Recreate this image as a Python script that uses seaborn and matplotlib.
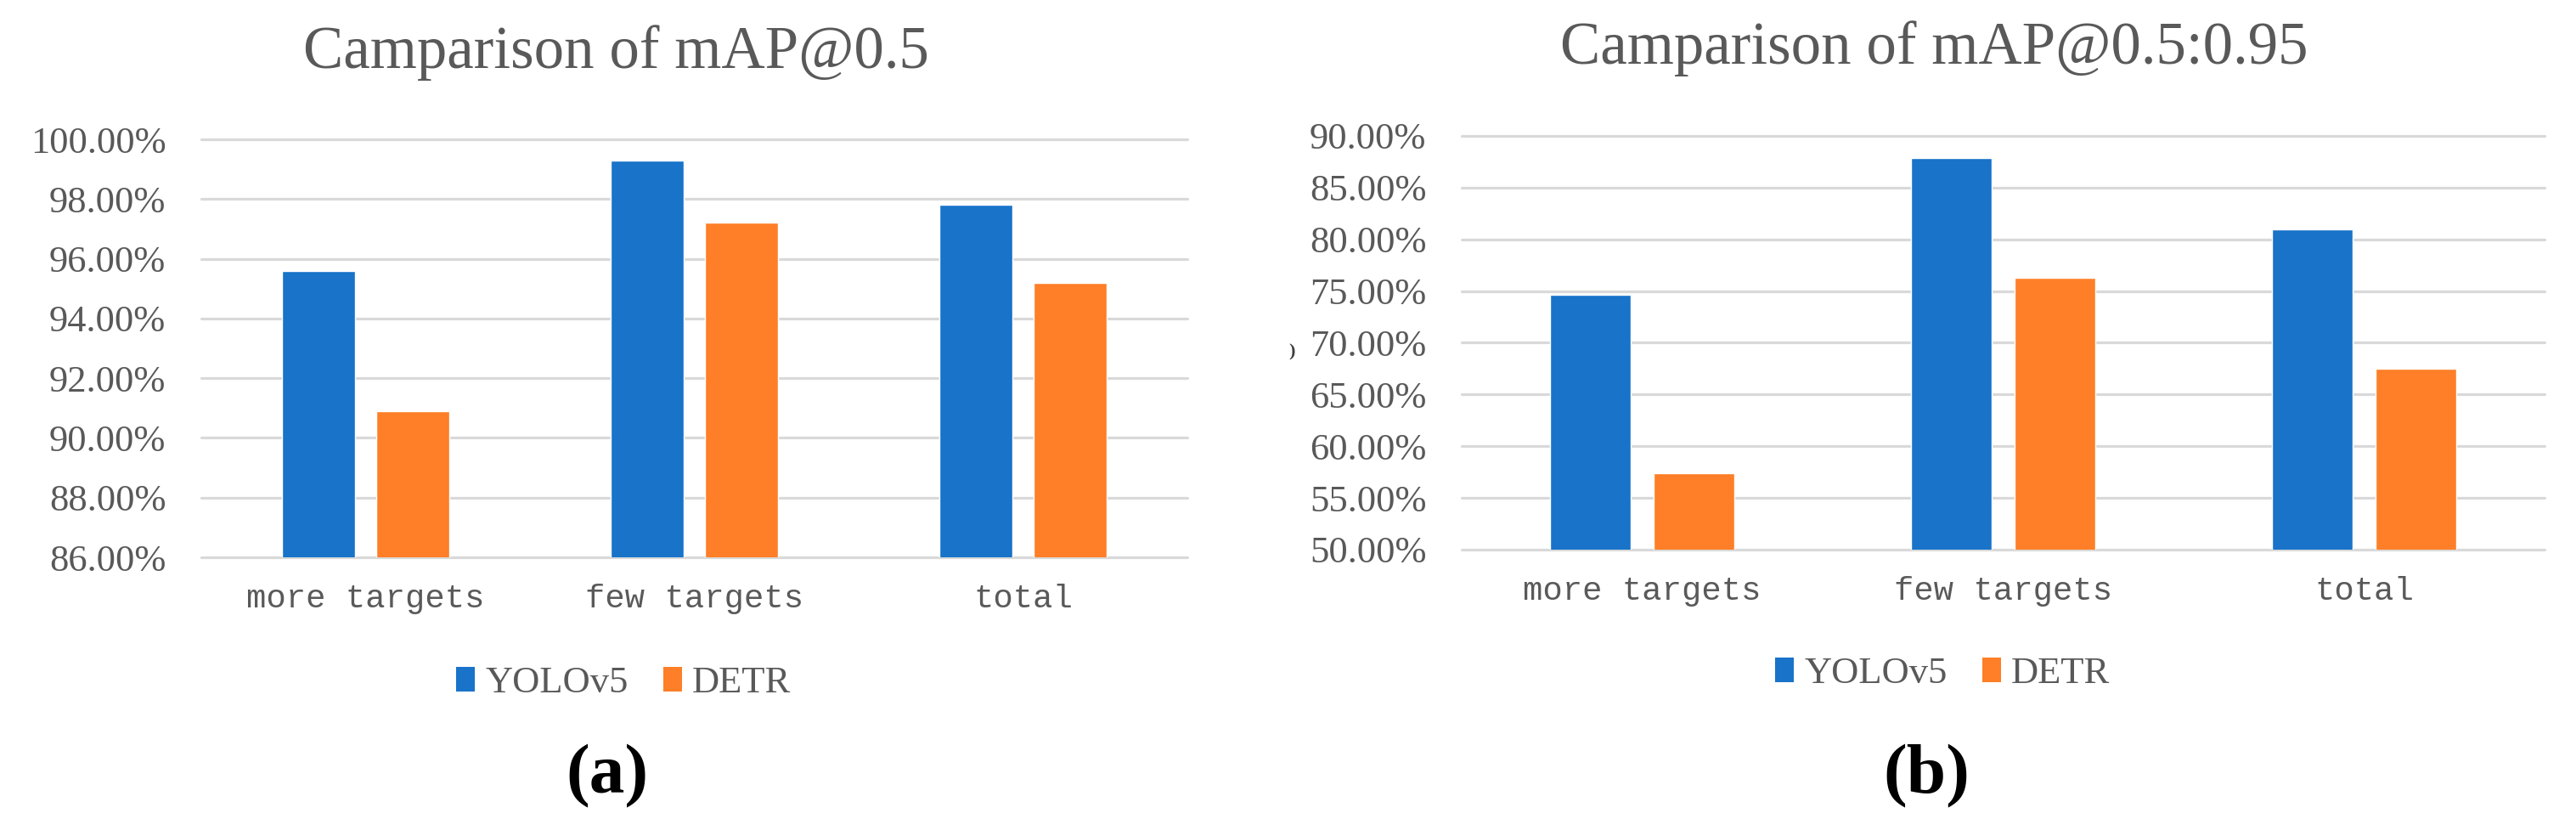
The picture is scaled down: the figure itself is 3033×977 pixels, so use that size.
import matplotlib
matplotlib.use("Agg")
import matplotlib.pyplot as plt
from matplotlib.patches import Patch
import seaborn as sns
import pandas as pd
import numpy as np

categories = ["more targets", "few targets", "total"]
models = ["YOLOv5", "DETR"]
map50_yolo = [95.6, 99.3, 97.8]
map50_detr = [90.9, 97.2, 95.2]
map5095_yolo = [74.6, 87.9, 81.0]
map5095_detr = [57.4, 76.3, 67.5]
ticks_a = [86, 88, 90, 92, 94, 96, 98, 100]
ticks_b = [50, 55, 60, 65, 70, 75, 80, 85, 90]
title_a = "Camparison of mAP@0.5"
title_b = "Camparison of mAP@0.5:0.95"

BLUE = "#1873C9"
ORANGE = "#FE7F27"
GRAY_TXT = "#595959"
GRID = "#D9D9D9"

sns.set_theme(style="white")
plt.rcParams["font.family"] = ["Liberation Serif", "DejaVu Serif"]

W, H = 3033, 977
fig = plt.figure(figsize=(W / 100, H / 100), dpi=100)


def px_axes(x0, x1, y0, y1):
    return fig.add_axes([x0 / W, 1 - y1 / H, (x1 - x0) / W, (y1 - y0) / H])


def make_df(yolo, detr):
    rows = []
    for c, v in zip(categories, yolo):
        rows.append({"category": c, "model": "YOLOv5", "value": v})
    for c, v in zip(categories, detr):
        rows.append({"category": c, "model": "DETR", "value": v})
    return pd.DataFrame(rows)


def draw(ax, df, ticks, gap):
    sns.barplot(data=df, x="category", y="value", hue="model", order=categories,
                hue_order=models, palette=[BLUE, ORANGE], width=0.575, gap=gap,
                legend=False, ax=ax, saturation=1, zorder=3)
    ax.set_ylim(ticks[0], ticks[-1])
    ax.set_yticks(ticks)
    ax.set_yticklabels([f"{t:.2f}%" for t in ticks], fontsize=32, color=GRAY_TXT)
    ax.set_xticks(range(len(categories)))
    ax.set_xticklabels(categories, fontsize=28, color=GRAY_TXT,
                       fontfamily=["Liberation Mono", "DejaVu Sans Mono"])
    ax.tick_params(axis="y", length=0, pad=30)
    ax.tick_params(axis="x", length=0, pad=22)
    ax.set_xlabel("")
    ax.set_ylabel("")
    ax.set_xlim(-0.5, len(categories) - 0.5)
    for s in ax.spines.values():
        s.set_visible(False)
    ax.yaxis.grid(True, color=GRID, linewidth=2.3)
    ax.set_axisbelow(True)
    for ln in ax.get_ygridlines():
        ln.set_clip_on(False)


ax1 = px_axes(237, 1398, 164, 656)
draw(ax1, make_df(map50_yolo, map50_detr), ticks_a, 0.227)

ax2 = px_axes(1721, 2996, 160, 647)
draw(ax2, make_df(map5095_yolo, map5095_detr), ticks_b, 0.22)

fig.text(725 / W, 1 - 80 / H, title_a, ha="center", va="baseline", fontsize=51, color=GRAY_TXT)
fig.text(2277 / W, 1 - 75 / H, title_b, ha="center", va="baseline", fontsize=51, color=GRAY_TXT)

handles = [Patch(facecolor=BLUE, edgecolor="none", label=models[0]),
           Patch(facecolor=ORANGE, edgecolor="none", label=models[1])]
for cx, cy in [(734, 804), (2287, 793)]:
    leg = fig.legend(handles=handles, loc="center", bbox_to_anchor=(cx / W, 1 - cy / H),
                     bbox_transform=fig.transFigure, ncol=2, frameon=False, fontsize=32,
                     handlelength=0.5, handleheight=0.63, handletextpad=0.27,
                     columnspacing=0.92)
    for t in leg.get_texts():
        t.set_color(GRAY_TXT)

fig.text(715 / W, 1 - 933 / H, "(a)", ha="center", va="baseline", fontsize=60,
         fontweight="bold", color="black")
fig.text(2268 / W, 1 - 933 / H, "(b)", ha="center", va="baseline", fontsize=60,
         fontweight="bold", color="black")
fig.text(1521 / W, 1 - 414 / H, ")", ha="center", va="center", fontsize=16,
         fontweight="bold", color="#404040")

fig.savefig("out.png", dpi=100, facecolor="white")
